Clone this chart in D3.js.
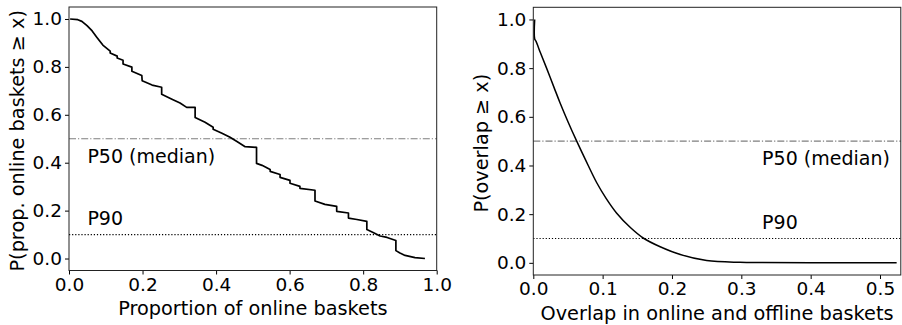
<!DOCTYPE html>
<html>
<head>
<meta charset="utf-8">
<script src="https://cdn.jsdelivr.net/npm/d3@7"></script>
<style>
  body { margin: 0; background: #fff; }
  svg { font-family: "DejaVu Sans", sans-serif; }
</style>
</head>
<body>
<div id="chart"></div>
<script>
// left panel: CCDF of the proportion of online baskets
var propX = [0.003, 0.024, 0.035, 0.049, 0.063, 0.076, 0.092, 0.112, 0.112, 0.131, 0.131, 0.147, 0.147,
    0.171, 0.171, 0.198, 0.199, 0.226, 0.252, 0.252, 0.280, 0.302, 0.320, 0.343, 0.343, 0.370, 0.392, 0.392,
    0.416, 0.438, 0.460, 0.479, 0.510, 0.510, 0.525, 0.547, 0.547, 0.574, 0.574, 0.601, 0.601, 0.628, 0.628,
    0.669, 0.669, 0.696, 0.728, 0.728, 0.760, 0.760, 0.783, 0.810, 0.810, 0.827, 0.846, 0.865, 0.889, 0.889,
    0.900, 0.914, 0.941, 0.968]
var propY = [1.000, 0.997, 0.990, 0.972, 0.950, 0.923, 0.891, 0.866, 0.858, 0.845, 0.837, 0.828, 0.812,
    0.799, 0.782, 0.764, 0.742, 0.724, 0.715, 0.686, 0.665, 0.649, 0.631, 0.631, 0.589, 0.569, 0.548, 0.540,
    0.523, 0.506, 0.485, 0.467, 0.464, 0.397, 0.389, 0.372, 0.364, 0.351, 0.339, 0.326, 0.314, 0.301, 0.293,
    0.285, 0.240, 0.226, 0.218, 0.197, 0.190, 0.169, 0.163, 0.155, 0.121, 0.109, 0.094, 0.088, 0.075, 0.033,
    0.023, 0.013, 0.004, 0.000]

// right panel: CCDF of overlap between online and offline baskets
var overlapX = [0.002, 0.002, 0.004, 0.01, 0.019, 0.03, 0.0385, 0.05, 0.0626, 0.075, 0.0915, 0.105, 0.12, 0.14,
    0.159, 0.183, 0.212, 0.25, 0.298, 0.33, 0.4, 0.524]
var overlapY = [1.0, 0.92, 0.91, 0.865, 0.801, 0.72, 0.658, 0.58, 0.50, 0.425, 0.329, 0.265, 0.205, 0.145,
    0.101, 0.066, 0.034, 0.0095, 0.002, 0.001, 0.0, 0.0]

var yTicks = [0, 0.2, 0.4, 0.6, 0.8, 1.0]
var leftXTicks = [0, 0.2, 0.4, 0.6, 0.8, 1.0]
var rightXTicks = [0, 0.1, 0.2, 0.3, 0.4, 0.5]

var refLines = [
    { value: 0.5, label: "P50 (median)", dash: "7,2,1.2,2", color: "#7f7f7f", width: 1.1 },
    { value: 0.1, label: "P90", dash: "1.2,1.9", color: "#000", width: 1.2 }
]

var panels = [
    {
        xs: propX, ys: propY, xDomain: [0, 1], xRange: [69, 436.7], yRange: [270.5, 7],
        xTicks: leftXTicks, xLabel: "Proportion of online baskets",
        yLabel: "P(prop. online baskets \u2265 x)", yLabelX: 17,
        labelX: 0.05, labelY: [0.40, 0.14], lineW: 1.7, curve: d3.curveLinear
    },
    {
        xs: overlapX, ys: overlapY, xDomain: [0, 0.53], xRange: [533.3, 900.8], yRange: [275, 7.3],
        xTicks: rightXTicks, xLabel: "Overlap in online and offline baskets",
        yLabel: "P(overlap \u2265 x)", yLabelX: 481,
        labelX: 0.33, labelY: [0.40, 0.14], lineW: 1.5, curve: d3.curveCatmullRom.alpha(0.5)
    }
]

var svg = d3.select('#chart').append('svg')
    .attr('width', 902)
    .attr('height', 325)

function styleAxis(sel) {
    sel.select('.domain').remove()
    sel.attr('font-family', '"DejaVu Sans", sans-serif').attr('font-size', null)
    sel.selectAll('.tick line').attr('stroke', '#000')
    sel.selectAll('.tick text')
        .attr('fill', '#000')
        .style('font-family', '"DejaVu Sans", sans-serif')
        .style('font-size', '18.5px')
}

panels.forEach(function (p) {
    var x = d3.scaleLinear().domain(p.xDomain).range(p.xRange)
    var y = d3.scaleLinear().domain([-0.05, 1.05]).range(p.yRange)
    var g = svg.append('g')

    // reference lines + their labels
    refLines.forEach(function (r, i) {
        g.append('line')
            .attr('x1', p.xRange[0]).attr('x2', p.xRange[1])
            .attr('y1', y(r.value)).attr('y2', y(r.value))
            .attr('stroke', r.color)
            .attr('stroke-width', r.width)
            .attr('stroke-dasharray', r.dash)
        g.append('text')
            .attr('x', x(p.labelX))
            .attr('y', y(p.labelY[i]))
            .style('font-size', '19px')
            .text(r.label)
    })

    var line = d3.line()
        .curve(p.curve)
        .x(function (d) { return x(d[0]) })
        .y(function (d) { return y(d[1]) })
    g.append('path')
        .datum(d3.zip(p.xs, p.ys))
        .attr('d', line)
        .attr('fill', 'none')
        .attr('stroke', '#000')
        .attr('stroke-width', p.lineW)
        .attr('stroke-linejoin', 'round')

    // axes
    var xAxis = d3.axisBottom(x).tickValues(p.xTicks).tickFormat(d3.format('.1f'))
        .tickSize(4).tickSizeOuter(0).tickPadding(3)
    var gx = g.append('g')
        .attr('transform', 'translate(0,' + p.yRange[0] + ')')
        .call(xAxis)
    styleAxis(gx)
    gx.selectAll('.tick text').attr('dy', '0.71em')

    var yAxis = d3.axisLeft(y).tickValues(yTicks).tickFormat(d3.format('.1f'))
        .tickSize(4).tickSizeOuter(0).tickPadding(3)
    var gy = g.append('g')
        .attr('transform', 'translate(' + p.xRange[0] + ',0)')
        .call(yAxis)
    styleAxis(gy)

    // frame
    g.append('rect')
        .attr('x', p.xRange[0]).attr('y', p.yRange[1])
        .attr('width', p.xRange[1] - p.xRange[0])
        .attr('height', p.yRange[0] - p.yRange[1])
        .attr('fill', 'none')
        .attr('stroke', '#222')
        .attr('stroke-width', 1)

    g.append('text')
        .attr('x', (p.xRange[0] + p.xRange[1]) / 2)
        .attr('y', p.yRange[0] + 44.5)
        .attr('text-anchor', 'middle')
        .style('font-size', '19.3px')
        .text(p.xLabel)

    g.append('text')
        .attr('transform', 'translate(' + p.yLabelX + ',' + ((p.yRange[0] + p.yRange[1]) / 2 + 2) + ') rotate(-90)')
        .attr('text-anchor', 'middle')
        .attr('dy', '0.35em')
        .style('font-size', '19.3px')
        .text(p.yLabel)
})
</script>
</body>
</html>
